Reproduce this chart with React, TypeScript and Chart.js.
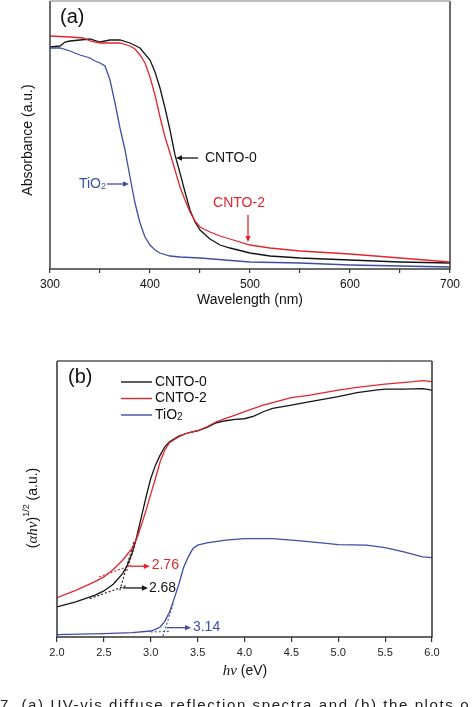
import React, { useEffect, useRef } from "react";
import { Chart, registerables } from "chart.js";
Chart.register(...registerables);

const SANS = "'Liberation Sans', Arial, sans-serif";
const SERIF = "'Liberation Serif', 'Times New Roman', serif";
const BLACK = "#151515";
const RED = "#e3262d";
const BLUE = "#3e4fa3";

// ---------- Panel (a): UV-vis absorbance ----------
const wlCNTO0 = [300, 310, 315, 320, 330, 340, 350, 360, 370, 380, 390, 400, 405, 410, 415, 420, 425, 430, 435, 440, 445, 450, 460, 470, 480, 500, 520, 550, 600, 650, 700];
const absCNTO0 = [2.22, 2.23, 2.27, 2.28, 2.29, 2.30, 2.27, 2.29, 2.29, 2.26, 2.21, 2.09, 1.97, 1.81, 1.61, 1.39, 1.14, 0.96, 0.77, 0.59, 0.47, 0.39, 0.30, 0.24, 0.21, 0.16, 0.13, 0.11, 0.09, 0.07, 0.06];
const wlCNTO2 = [300, 320, 333, 340, 350, 360, 370, 380, 385, 390, 395, 400, 405, 410, 415, 420, 425, 430, 435, 440, 445, 450, 460, 470, 480, 500, 520, 550, 600, 650, 700];
const absCNTO2 = [2.33, 2.32, 2.31, 2.28, 2.26, 2.26, 2.26, 2.23, 2.20, 2.14, 2.06, 1.92, 1.74, 1.52, 1.32, 1.16, 0.99, 0.82, 0.69, 0.57, 0.48, 0.42, 0.37, 0.33, 0.30, 0.24, 0.21, 0.18, 0.15, 0.11, 0.07];
const wlTiO2 = [300, 310, 320, 330, 340, 345, 350, 355, 360, 365, 370, 375, 380, 385, 390, 395, 400, 405, 410, 420, 430, 450, 500, 550, 600, 650, 700];
const absTiO2 = [2.21, 2.21, 2.18, 2.14, 2.11, 2.08, 2.06, 2.03, 1.89, 1.66, 1.41, 1.19, 0.92, 0.66, 0.46, 0.32, 0.24, 0.19, 0.16, 0.13, 0.12, 0.11, 0.07, 0.06, 0.04, 0.03, 0.02];
const wlMin = 300;
const wlMax = 700;
const wlStep = 50;
const absMax = 2.68;

const arrowsA = [
  { x1: 448, y1: 1.11, x2: 426, y2: 1.11, color: BLACK },
  { x1: 357, y1: 0.85, x2: 379, y2: 0.85, color: BLUE },
  { x1: 498, y1: 0.54, x2: 498, y2: 0.27, color: RED },
];
const labelsA = [
  { text: "CNTO-0", x: 455, y: 1.11, align: "left", color: BLACK },
  { text: "CNTO-2", x: 489, y: 0.66, align: "center", color: RED },
];
const tio2LabelA = { x: 356, y: 0.85 };

// ---------- Panel (b): Tauc plot ----------
const evCNTO0 = [2.0, 2.2, 2.4, 2.5, 2.6, 2.7, 2.75, 2.8, 2.85, 2.9, 2.95, 3.0, 3.05, 3.1, 3.15, 3.2, 3.3, 3.4, 3.5, 3.6, 3.7, 3.8, 3.9, 4.0, 4.1, 4.2, 4.3, 4.5, 4.7, 5.0, 5.2, 5.4, 5.5, 5.7, 5.9, 6.0];
const taucCNTO0 = [0.90, 1.05, 1.25, 1.38, 1.58, 1.90, 2.15, 2.50, 3.00, 3.60, 4.20, 4.75, 5.15, 5.45, 5.70, 5.85, 6.02, 6.12, 6.18, 6.28, 6.42, 6.48, 6.52, 6.54, 6.62, 6.75, 6.85, 6.95, 7.05, 7.20, 7.32, 7.40, 7.43, 7.43, 7.44, 7.40];
const evCNTO2 = [2.0, 2.2, 2.4, 2.5, 2.6, 2.7, 2.75, 2.8, 2.85, 2.9, 2.95, 3.0, 3.05, 3.1, 3.15, 3.2, 3.3, 3.4, 3.5, 3.6, 3.7, 3.8, 3.9, 4.0, 4.2, 4.4, 4.5, 4.7, 5.0, 5.2, 5.5, 5.8, 5.9, 6.0];
const taucCNTO2 = [1.18, 1.40, 1.65, 1.80, 2.02, 2.30, 2.48, 2.65, 2.95, 3.35, 3.80, 4.28, 4.75, 5.25, 5.60, 5.82, 6.00, 6.12, 6.18, 6.30, 6.45, 6.55, 6.65, 6.75, 6.95, 7.10, 7.17, 7.25, 7.40, 7.48, 7.58, 7.65, 7.68, 7.65];
const evTiO2 = [2.0, 2.5, 2.8, 3.0, 3.05, 3.1, 3.15, 3.2, 3.25, 3.3, 3.35, 3.4, 3.45, 3.5, 3.6, 3.8, 4.0, 4.3, 4.6, 4.9, 5.0, 5.3, 5.5, 5.7, 5.9, 6.0];
const taucTiO2 = [0.07, 0.10, 0.13, 0.18, 0.23, 0.30, 0.47, 0.75, 1.15, 1.58, 2.08, 2.40, 2.65, 2.75, 2.82, 2.90, 2.95, 2.95, 2.88, 2.80, 2.77, 2.75, 2.68, 2.55, 2.40, 2.38];
const evMin = 2.0;
const evMax = 6.0;
const evStep = 0.5;
const taucMax = 8.27;

const tangentBlackBaseX = [2.35, 2.75];
const tangentBlackBaseY = [1.15, 1.55];
const tangentBlackEdgeX = [2.67, 2.82];
const tangentBlackEdgeY = [1.40, 2.85];
const tangentRedBaseX = [2.45, 2.80];
const tangentRedBaseY = [1.80, 2.16];
const tangentRedEdgeX = [2.745, 2.90];
const tangentRedEdgeY = [1.98, 3.38];
const tangentBlueBaseX = [3.0, 3.2];
const tangentBlueBaseY = [0.15, 0.17];
const tangentBlueEdgeX = [3.13, 3.24];
const tangentBlueEdgeY = [0.03, 1.0];

const arrowsB = [
  { x1: 2.78, y1: 2.12, x2: 2.99, y2: 2.12, color: RED },
  { x1: 2.70, y1: 1.47, x2: 2.97, y2: 1.47, color: BLACK },
  { x1: 3.17, y1: 0.28, x2: 3.43, y2: 0.28, color: BLUE },
];
const labelsB = [
  { text: "2.76", x: 3.01, y: 2.14, color: RED },
  { text: "2.68", x: 2.98, y: 1.47, color: BLACK },
  { text: "3.14", x: 3.45, y: 0.30, color: BLUE },
];
const legendB = [
  { text: "CNTO-0", color: BLACK },
  { text: "CNTO-2", color: RED },
  { text: "TiO", sub: "2", color: BLUE },
];

const pts = (xs: number[], ys: number[]) => xs.map((x, i) => ({ x, y: ys[i] }));

function drawArrow(ctx: CanvasRenderingContext2D, x1: number, y1: number, x2: number, y2: number, color: string, head = 6) {
  ctx.save();
  ctx.strokeStyle = color;
  ctx.fillStyle = color;
  ctx.lineWidth = 1.3;
  const a = Math.atan2(y2 - y1, x2 - x1);
  ctx.beginPath();
  ctx.moveTo(x1, y1);
  ctx.lineTo(x2 - head * 0.8 * Math.cos(a), y2 - head * 0.8 * Math.sin(a));
  ctx.stroke();
  const w = head * 0.45;
  ctx.beginPath();
  ctx.moveTo(x2, y2);
  ctx.lineTo(x2 - head * Math.cos(a) + w * Math.sin(a), y2 - head * Math.sin(a) - w * Math.cos(a));
  ctx.lineTo(x2 - head * Math.cos(a) - w * Math.sin(a), y2 - head * Math.sin(a) + w * Math.cos(a));
  ctx.closePath();
  ctx.fill();
  ctx.restore();
}

function drawPieces(ctx: CanvasRenderingContext2D, pieces: { t: string; font: string; dy?: number }[], cx: number, cy: number, color: string) {
  let total = 0;
  for (const p of pieces) {
    ctx.font = p.font;
    total += ctx.measureText(p.t).width;
  }
  let x = cx - total / 2;
  ctx.fillStyle = color;
  ctx.textBaseline = "middle";
  ctx.textAlign = "left";
  for (const p of pieces) {
    ctx.font = p.font;
    ctx.fillText(p.t, x, cy + (p.dy || 0));
    x += ctx.measureText(p.t).width;
  }
}

function frame(chart: any, color: string, topColor: string) {
  const { ctx, chartArea: a } = chart;
  ctx.save();
  ctx.lineWidth = 1.5;
  ctx.strokeStyle = color;
  ctx.beginPath();
  ctx.moveTo(a.left, a.top);
  ctx.lineTo(a.left, a.bottom);
  ctx.lineTo(a.right, a.bottom);
  ctx.lineTo(a.right, a.top);
  ctx.stroke();
  ctx.strokeStyle = topColor;
  ctx.beginPath();
  ctx.moveTo(a.left, a.top);
  ctx.lineTo(a.right, a.top);
  ctx.stroke();
  ctx.restore();
}

const annotA = {
  id: "annotA",
  afterDraw(chart: any) {
    const { ctx, scales } = chart;
    const X = scales.x, Y = scales.y;
    frame(chart, "#3c3c3c", "#a8a8a8");
    for (const a of arrowsA) {
      drawArrow(ctx, X.getPixelForValue(a.x1), Y.getPixelForValue(a.y1), X.getPixelForValue(a.x2), Y.getPixelForValue(a.y2), a.color, 6);
    }
    ctx.save();
    ctx.font = `14px ${SANS}`;
    ctx.textBaseline = "middle";
    for (const l of labelsA) {
      ctx.fillStyle = l.color;
      ctx.textAlign = l.align as CanvasTextAlign;
      ctx.fillText(l.text, X.getPixelForValue(l.x), Y.getPixelForValue(l.y));
    }
    // TiO2 label (right aligned)
    const tx = X.getPixelForValue(tio2LabelA.x);
    const ty = Y.getPixelForValue(tio2LabelA.y);
    ctx.font = `9px ${SANS}`;
    const sw = ctx.measureText("2").width;
    ctx.fillStyle = BLUE;
    ctx.textAlign = "right";
    ctx.fillText("2", tx, ty + 3);
    ctx.font = `14px ${SANS}`;
    ctx.fillText("TiO", tx - sw, ty);
    // panel tag
    ctx.fillStyle = "#111";
    ctx.textAlign = "left";
    ctx.font = `20px ${SANS}`;
    ctx.fillText("(a)", 60, 17);
    // axis titles
    ctx.font = `14px ${SANS}`;
    ctx.textAlign = "center";
    ctx.fillText("Wavelength (nm)", 250, 300);
    ctx.translate(28, 140);
    ctx.rotate(-Math.PI / 2);
    ctx.fillText("Absorbance (a.u.)", 0, 0);
    ctx.restore();
  },
};

const annotB = {
  id: "annotB",
  afterDraw(chart: any) {
    const { ctx, scales } = chart;
    const X = scales.x, Y = scales.y;
    frame(chart, "#333", "#555");
    for (const a of arrowsB) {
      drawArrow(ctx, X.getPixelForValue(a.x1), Y.getPixelForValue(a.y1), X.getPixelForValue(a.x2), Y.getPixelForValue(a.y2), a.color, 6);
    }
    ctx.save();
    ctx.font = `14px ${SANS}`;
    ctx.textBaseline = "middle";
    ctx.textAlign = "left";
    for (const l of labelsB) {
      ctx.fillStyle = l.color;
      ctx.fillText(l.text, X.getPixelForValue(l.x), Y.getPixelForValue(l.y));
    }
    // legend
    legendB.forEach((it, i) => {
      const y = 52 + i * 16.5;
      ctx.strokeStyle = it.color;
      ctx.lineWidth = 1.4;
      ctx.beginPath();
      ctx.moveTo(121, y);
      ctx.lineTo(152, y);
      ctx.stroke();
      ctx.fillStyle = "#111";
      ctx.font = `14px ${SANS}`;
      ctx.fillText(it.text, 155, y);
      if (it.sub) {
        const w = ctx.measureText(it.text).width;
        ctx.font = `10px ${SANS}`;
        ctx.fillText(it.sub, 155 + w, y + 2);
      }
    });
    // panel tag
    ctx.fillStyle = "#111";
    ctx.font = `20px ${SANS}`;
    ctx.fillText("(b)", 68, 47);
    // x title
    drawPieces(ctx, [
      { t: "hν", font: `italic 15px ${SERIF}` },
      { t: " (eV)", font: `14px ${SANS}` },
    ], 245, 341, "#111");
    // y title
    ctx.translate(33, 178);
    ctx.rotate(-Math.PI / 2);
    drawPieces(ctx, [
      { t: "(", font: `14px ${SANS}` },
      { t: "αhν", font: `italic 15px ${SERIF}` },
      { t: ")", font: `14px ${SANS}` },
      { t: "1/2", font: `9px ${SANS}`, dy: -6 },
      { t: " (a.u.)", font: `14px ${SANS}` },
    ], 0, 0, "#111");
    ctx.restore();
  },
};

const lineDs = (data: any, color: string, extra: any = {}) => ({
  data,
  borderColor: color,
  backgroundColor: color,
  borderWidth: 1.3,
  pointRadius: 0,
  tension: 0,
  fill: false,
  ...extra,
});

export default function App() {
  const refA = useRef<HTMLCanvasElement>(null);
  const refB = useRef<HTMLCanvasElement>(null);

  useEffect(() => {
    const chartA = new Chart(refA.current!, {
      type: "line",
      data: {
        datasets: [
          lineDs(pts(wlTiO2, absTiO2), BLUE),
          lineDs(pts(wlCNTO2, absCNTO2), RED),
          lineDs(pts(wlCNTO0, absCNTO0), BLACK),
        ],
      },
      options: {
        animation: false,
        responsive: false,
        devicePixelRatio: 1,
        layout: { padding: { top: 1, right: 24, left: 0, bottom: 0 } },
        plugins: { legend: { display: false }, tooltip: { enabled: false } },
        scales: {
          x: {
            type: "linear",
            min: wlMin,
            max: wlMax,
            afterFit: (s: any) => { s.height = 51; },
            ticks: {
              stepSize: wlStep,
              autoSkip: false,
              maxRotation: 0,
              padding: 4,
              color: "#111",
              font: { family: SANS, size: 12 },
              callback: (v: any) => (Number(v) % 100 === 0 ? String(v) : ""),
            },
            grid: { display: true, drawOnChartArea: false, drawTicks: true, tickLength: 4, color: "#333", lineWidth: 1.2 },
            border: { display: false },
          },
          y: {
            type: "linear",
            min: 0,
            max: absMax,
            afterFit: (s: any) => { s.width = 50; },
            ticks: { display: false },
            grid: { display: false },
            border: { display: false },
          },
        },
      } as any,
      plugins: [annotA],
    });

    const dot = { borderWidth: 1.1, borderDash: [2, 2] };
    const chartB = new Chart(refB.current!, {
      type: "line",
      data: {
        datasets: [
          lineDs(pts(evTiO2, taucTiO2), BLUE),
          lineDs(pts(evCNTO2, taucCNTO2), RED),
          lineDs(pts(evCNTO0, taucCNTO0), BLACK),
          lineDs(pts(tangentBlackBaseX, tangentBlackBaseY), BLACK, dot),
          lineDs(pts(tangentBlackEdgeX, tangentBlackEdgeY), BLACK, dot),
          lineDs(pts(tangentRedBaseX, tangentRedBaseY), RED, dot),
          lineDs(pts(tangentRedEdgeX, tangentRedEdgeY), RED, dot),
          lineDs(pts(tangentBlueBaseX, tangentBlueBaseY), BLUE, dot),
          lineDs(pts(tangentBlueEdgeX, tangentBlueEdgeY), BLUE, dot),
        ],
      },
      options: {
        animation: false,
        responsive: false,
        devicePixelRatio: 1,
        layout: { padding: { top: 31, right: 42, left: 0, bottom: 0 } },
        plugins: { legend: { display: false }, tooltip: { enabled: false } },
        scales: {
          x: {
            type: "linear",
            min: evMin,
            max: evMax,
            afterFit: (s: any) => { s.height = 70; },
            ticks: {
              stepSize: evStep,
              autoSkip: false,
              maxRotation: 0,
              padding: 4,
              color: "#222",
              font: { family: SANS, size: 11 },
              callback: (v: any) => Number(v).toFixed(1),
            },
            grid: { display: true, drawOnChartArea: false, drawTicks: true, tickLength: 5, color: "#333", lineWidth: 1.2 },
            border: { display: false },
          },
          y: {
            type: "linear",
            min: 0,
            max: taucMax,
            afterFit: (s: any) => { s.width = 57; },
            ticks: { display: false },
            grid: { display: false },
            border: { display: false },
          },
        },
      } as any,
      plugins: [annotB],
    });

    return () => {
      chartA.destroy();
      chartB.destroy();
    };
  }, []);

  return (
    <div style={{ position: "fixed", left: 0, top: 0, width: 474, height: 707, background: "#fff", overflow: "hidden" }}>
      <canvas ref={refA} width={474} height={320} style={{ position: "absolute", left: 0, top: 0, width: 474, height: 320 }} />
      <canvas ref={refB} width={474} height={377} style={{ position: "absolute", left: 0, top: 330, width: 474, height: 377 }} />
      <div
        style={{
          position: "absolute",
          left: 0,
          top: 697,
          whiteSpace: "nowrap",
          fontFamily: SANS,
          fontSize: 15,
          lineHeight: "16px",
          letterSpacing: "1.6px",
          color: "#222",
        }}
      >
        7. (a) UV-vis diffuse reflection spectra and (b) the plots o
      </div>
    </div>
  );
}
